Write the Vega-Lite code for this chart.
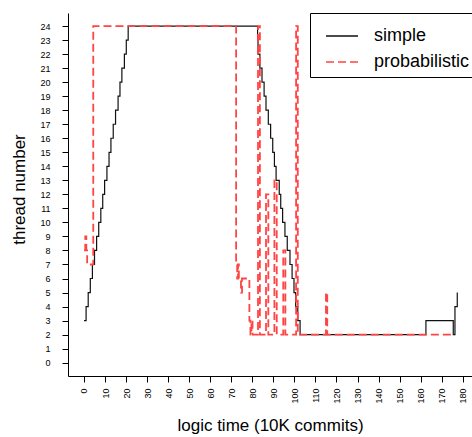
{
  "$schema": "https://vega.github.io/schema/vega-lite/v6.json",
  "width": 404,
  "height": 363,
  "autosize": {"type": "none"},
  "padding": {"left": 68, "top": 13, "right": 0, "bottom": 61},
  "background": "white",
  "config": {
    "view": {"stroke": null},
    "font": "Liberation Sans",
    "axis": {
      "grid": false,
      "domainColor": "#000",
      "domainWidth": 1,
      "tickColor": "#000",
      "tickWidth": 1,
      "tickSize": 6,
      "labelFont": "Liberation Sans",
      "labelFontSize": 9,
      "labelColor": "#000",
      "titleFont": "Liberation Sans",
      "titleFontSize": 17,
      "titleFontWeight": "normal",
      "titleColor": "#000"
    },
    "legend": {
      "orient": "none",
      "legendX": 242,
      "legendY": 0,
      "strokeColor": "#000",
      "fillColor": "#fff",
      "padding": 6,
      "symbolType": "stroke",
      "symbolSize": 1024,
      "symbolStrokeWidth": 1.5,
      "symbolOffset": 9,
      "labelFontSize": 18,
      "labelFont": "Liberation Sans",
      "labelColor": "#000",
      "labelOffset": 15,
      "rowPadding": -9
    }
  },
  "datasets": {
    "series": [
      {"t": 0, "v": 3, "s": "simple"},
      {"t": 1, "v": 4, "s": "simple"},
      {"t": 2, "v": 5, "s": "simple"},
      {"t": 3, "v": 6, "s": "simple"},
      {"t": 4, "v": 7, "s": "simple"},
      {"t": 5, "v": 8, "s": "simple"},
      {"t": 6, "v": 9, "s": "simple"},
      {"t": 7, "v": 10, "s": "simple"},
      {"t": 8, "v": 11, "s": "simple"},
      {"t": 8.9, "v": 12, "s": "simple"},
      {"t": 9.8, "v": 13, "s": "simple"},
      {"t": 10.9, "v": 14, "s": "simple"},
      {"t": 11.9, "v": 15, "s": "simple"},
      {"t": 12.8, "v": 16, "s": "simple"},
      {"t": 13.9, "v": 17, "s": "simple"},
      {"t": 15, "v": 18, "s": "simple"},
      {"t": 16.2, "v": 19, "s": "simple"},
      {"t": 17.1, "v": 20, "s": "simple"},
      {"t": 18, "v": 21, "s": "simple"},
      {"t": 19.2, "v": 22, "s": "simple"},
      {"t": 20.1, "v": 23, "s": "simple"},
      {"t": 21, "v": 24, "s": "simple"},
      {"t": 82.5, "v": 23, "s": "simple"},
      {"t": 82.7, "v": 22, "s": "simple"},
      {"t": 83.6, "v": 21, "s": "simple"},
      {"t": 84.6, "v": 20, "s": "simple"},
      {"t": 85.6, "v": 19, "s": "simple"},
      {"t": 86.5, "v": 18, "s": "simple"},
      {"t": 87.6, "v": 17, "s": "simple"},
      {"t": 88.7, "v": 16, "s": "simple"},
      {"t": 89.7, "v": 15, "s": "simple"},
      {"t": 90.5, "v": 14, "s": "simple"},
      {"t": 91.3, "v": 13, "s": "simple"},
      {"t": 92.8, "v": 12, "s": "simple"},
      {"t": 93.5, "v": 11, "s": "simple"},
      {"t": 94.4, "v": 10, "s": "simple"},
      {"t": 95.5, "v": 9, "s": "simple"},
      {"t": 96.6, "v": 8, "s": "simple"},
      {"t": 97.9, "v": 7, "s": "simple"},
      {"t": 98.9, "v": 6, "s": "simple"},
      {"t": 99.8, "v": 5, "s": "simple"},
      {"t": 100.6, "v": 4, "s": "simple"},
      {"t": 101.6, "v": 3, "s": "simple"},
      {"t": 102.7, "v": 2, "s": "simple"},
      {"t": 162.5, "v": 3, "s": "simple"},
      {"t": 175.5, "v": 2, "s": "simple"},
      {"t": 176.3, "v": 4, "s": "simple"},
      {"t": 177.4, "v": 5, "s": "simple"},
      {"t": 0, "v": 8, "s": "probabilistic"},
      {"t": 0.6, "v": 9, "s": "probabilistic"},
      {"t": 1.1, "v": 8, "s": "probabilistic"},
      {"t": 1.5, "v": 7, "s": "probabilistic"},
      {"t": 4.4, "v": 24, "s": "probabilistic"},
      {"t": 72.3, "v": 7, "s": "probabilistic"},
      {"t": 72.8, "v": 6, "s": "probabilistic"},
      {"t": 73.2, "v": 7, "s": "probabilistic"},
      {"t": 73.6, "v": 6, "s": "probabilistic"},
      {"t": 74.6, "v": 5, "s": "probabilistic"},
      {"t": 75.1, "v": 6, "s": "probabilistic"},
      {"t": 78.6, "v": 3, "s": "probabilistic"},
      {"t": 79.1, "v": 2, "s": "probabilistic"},
      {"t": 79.6, "v": 3, "s": "probabilistic"},
      {"t": 80.1, "v": 2, "s": "probabilistic"},
      {"t": 82.7, "v": 24, "s": "probabilistic"},
      {"t": 83.6, "v": 2, "s": "probabilistic"},
      {"t": 86.5, "v": 12, "s": "probabilistic"},
      {"t": 87.6, "v": 2, "s": "probabilistic"},
      {"t": 90.5, "v": 13, "s": "probabilistic"},
      {"t": 91.6, "v": 2, "s": "probabilistic"},
      {"t": 94.7, "v": 8, "s": "probabilistic"},
      {"t": 95.7, "v": 2, "s": "probabilistic"},
      {"t": 100.8, "v": 24, "s": "probabilistic"},
      {"t": 101.6, "v": 2, "s": "probabilistic"},
      {"t": 115, "v": 5, "s": "probabilistic"},
      {"t": 115.6, "v": 2, "s": "probabilistic"},
      {"t": 176.3, "v": 2, "s": "probabilistic"}
    ]
  },
  "data": {"name": "series"},
  "encoding": {
    "x": {
      "field": "t",
      "type": "quantitative",
      "scale": {"domain": [-7.6, 184.4], "nice": false, "zero": false},
      "axis": {
        "title": "logic time (10K commits)",
        "values": [0, 10, 20, 30, 40, 50, 60, 70, 80, 90, 100, 110, 120, 130, 140, 150, 160, 170, 180],
        "labelAngle": -90,
        "labelAlign": "right",
        "labelBaseline": "middle",
        "labelPadding": 6,
        "labelFlush": false,
        "labelOverlap": false,
        "titlePadding": 14
      }
    },
    "y": {
      "field": "v",
      "type": "quantitative",
      "scale": {"domain": [-0.95, 24.93], "nice": false, "zero": false},
      "axis": {
        "title": "thread number",
        "values": [0, 1, 2, 3, 4, 5, 6, 7, 8, 9, 10, 11, 12, 13, 14, 15, 16, 17, 18, 19, 20, 21, 22, 23, 24],
        "labelAngle": 0,
        "labelPadding": 12,
        "labelFlush": false,
        "labelOverlap": false,
        "titleAngle": -90,
        "titleX": -49,
        "titleY": 176,
        "titleAlign": "center",
        "titleBaseline": "middle"
      }
    },
    "color": {
      "field": "s",
      "type": "nominal",
      "title": null,
      "scale": {"domain": ["simple", "probabilistic"], "range": ["#111111", "#ff4444"]}
    },
    "strokeDash": {
      "field": "s",
      "type": "nominal",
      "title": null,
      "scale": {"domain": ["simple", "probabilistic"], "range": [[1, 0], [8, 4]]}
    }
  },
  "layer": [
    {
      "transform": [{"filter": "datum.s === 'simple'"}],
      "mark": {"type": "line", "interpolate": "step-after", "strokeWidth": 1.2}
    },
    {
      "transform": [{"filter": "datum.s === 'probabilistic'"}],
      "mark": {"type": "line", "interpolate": "step-after", "strokeWidth": 1.8}
    }
  ]
}
